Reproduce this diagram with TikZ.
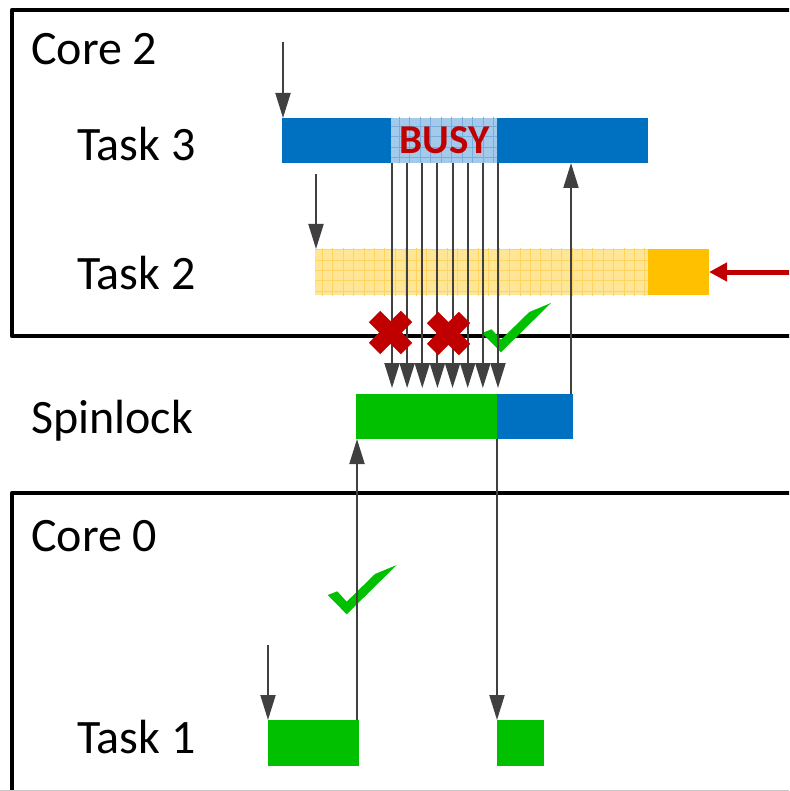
\documentclass[tikz,border=0pt]{standalone}
\usepackage{fontspec}
\setmainfont{Carlito}
\usetikzlibrary{arrows.meta,calc}

\definecolor{taskblue}{HTML}{0070C0}
\definecolor{busyfill}{HTML}{A3CAEB}
\definecolor{busygrid}{HTML}{78ADDE}
\definecolor{taskgreen}{HTML}{00C000}
\definecolor{taskorange}{HTML}{FFC000}
\definecolor{waitfill}{HTML}{FFE596}
\definecolor{waitgrid}{HTML}{FFD460}
\definecolor{alertred}{HTML}{C00000}
\definecolor{conngray}{HTML}{404040}

\tikzset{
  boxline/.style={line width=4.5pt, black, line join=round},
  lbl/.style={inner sep=0pt, anchor=base west, font=\fontsize{48}{58}\selectfont},
  bar/.style={inner sep=0pt, outer sep=0pt, anchor=north west, draw=none},
  conn/.style={line width=2pt, conngray, -{Triangle[length=25pt,width=15pt]}},
  redarrow/.style={line width=5pt, alertred, -{Triangle[length=18pt,width=18pt]}},
  okmark/.pic={\fill[taskgreen] (-19,-19.3) -- (-9.4,-23) -- (0,-12.6) -- (28.3,-40.3) -- (50,-49.3) -- (0,0) -- cycle;},
  nomark/.pic={\draw[line width=16pt, alertred] (-16,-16) -- (16,16) (-16,16) -- (16,-16);}
}

\begin{document}
\begin{tikzpicture}[x=1pt,y=-1pt]
\useasboundingbox (0,0) rectangle (789,791);
\clip (0,0) rectangle (789,791);

% core frames
\draw[boxline] (800,10) -- (12,10) -- (12,336) -- (800,336);
\draw[boxline] (800,493) -- (12,493) -- (12,800);
\draw[line width=1pt, black!22] (0,790) -- (789,790);

% labels
\node[lbl] (core2) at (31,65) {Core 2};
\node[lbl] (task3lbl) at (77,161) {Task 3};
\node[lbl] (task2lbl) at (77,289) {Task 2};
\node[lbl] (spinlbl) at (31,433) {Spinlock};
\node[lbl] (core0) at (31,551) {Core 0};
\node[lbl] (task1lbl) at (77,753) {Task 1};

% Task 3 with its busy section
\node[bar, fill=taskblue, minimum width=366pt, minimum height=45pt] (t3) at (282,118) {};
\node[bar, fill=busyfill, minimum width=106pt, minimum height=45pt] (busy) at (391,118) {};
\begin{scope}
  \clip (391,118) rectangle (497,163);
  \draw[busygrid, line width=0.7pt, step=10.5pt] (380,110) grid (510,170);
\end{scope}
\node[inner sep=0pt, anchor=base, text=alertred, font=\fontsize{41}{48}\selectfont\bfseries] (busytxt) at (444.5,154) {BUSY};

% Task 2: waiting part and running part
\node[bar, fill=waitfill, minimum width=333pt, minimum height=46pt] (t2w) at (315,249) {};
\begin{scope}
  \clip (315,249) rectangle (648,295);
  \draw[waitgrid, line width=0.7pt, step=10.4pt] (305,240) grid (660,300);
\end{scope}
\node[bar, fill=taskorange, minimum width=61pt, minimum height=46pt] (t2r) at (648,249) {};

% spinlock occupancy
\node[bar, fill=taskgreen, minimum width=141pt, minimum height=45pt] (spg) at (356,394) {};
\node[bar, fill=taskblue, minimum width=76pt, minimum height=45pt] (spb) at (497,394) {};

% Task 1 pieces
\node[bar, fill=taskgreen, minimum width=91pt, minimum height=46pt] (t1a) at (268,720) {};
\node[bar, fill=taskgreen, minimum width=47pt, minimum height=46pt] (t1b) at (497,720) {};

% successful lock attempts
\pic at (501,352.3) {okmark};
\pic at (346.7,614.3) {okmark};

% activation arrows
\coordinate (in3) at (283,42);
\coordinate (in2) at (316,174);
\coordinate (in1) at (268,645);
\coordinate (inr) at (795,272);
\draw[conn] (in3) -- (in3 |- t3.north);
\draw[conn] (in2) -- (in2 |- t2w.north);
\draw[conn] (in1) -- (in1 |- t1a.north);
\draw[redarrow] (inr) -- (t2r.east);

% repeated lock tries of Task 3
\foreach \i in {0,...,7}{
  \draw[conn] ($(busy.south west)+(1+\i*15.14,0)$) -- ++(0,225);
}

% lock handover
\draw[conn] ([xshift=-2pt]spb.north east) -- ([xshift=-2pt]spb.north east |- t3.south);
\draw[conn] ([xshift=-2pt]t1a.north east) -- ([xshift=-2pt]t1a.north east |- spg.south);
\draw[conn] (spg.south east) -- (spg.south east |- t1b.north);

% failed lock attempts
\pic at (390.5,332.5) {nomark};
\pic at (448.5,333.5) {nomark};
\end{tikzpicture}
\end{document}
